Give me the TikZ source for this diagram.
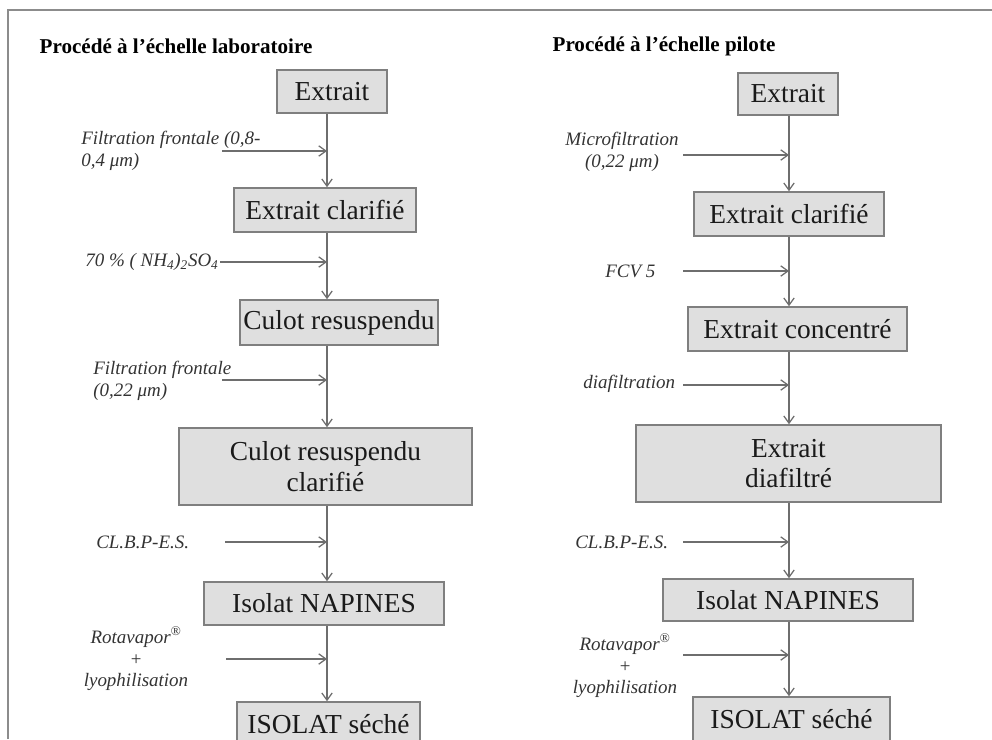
\documentclass[tikz,border=0pt]{standalone}
\usepackage{fontspec}
\setmainfont{Liberation Serif}
\usepackage{xcolor}
\usepackage{tikz}
\usetikzlibrary{arrows.meta,positioning,calc}
\definecolor{pfink}{HTML}{1A1A1A}
\definecolor{pfnote}{HTML}{333333}
\definecolor{pfbox}{HTML}{DFDFDF}
\definecolor{pfedge}{HTML}{7F7F7F}
\definecolor{pfline}{HTML}{6E6E6E}
\definecolor{pfframe}{HTML}{8C8C8C}
\tikzset{
  stepbox/.style={rectangle,draw=pfedge,line width=1.1pt,fill=pfbox,
                  inner sep=0pt,align=center,text=pfink,
                  font=\fontsize{19.5}{21.5}\selectfont},
  sz/.style 2 args={minimum width=#1*0.25mm,minimum height=#2*0.25mm},
  note/.style={inner sep=0pt,text=pfnote,
               font=\fontsize{13.5}{15.6}\selectfont\itshape},
  head/.style={inner sep=0pt,text=black,font=\fontsize{15}{18}\selectfont\bfseries},
  flow/.style={-{Straight Barb[length=1.8mm,width=2.6mm]},line width=0.9pt,draw=pfline},
  feed/.style={-{Straight Barb[length=1.8mm,width=2.6mm]},line width=0.9pt,draw=pfline},
}

\begin{document}
\begin{tikzpicture}[x=0.025cm,y=-0.025cm]
\useasboundingbox (0,0) rectangle (992,739);
\coordinate (fa) at (8,739);
\coordinate (fb) at (8,10);
\coordinate (fc) at (992,10);
\draw[pfframe,line width=1.4pt] (fa) -- (fb) -- (fc);

\node[head] (tL) at (176,46) {Procédé à l'échelle laboratoire};
\node[head] (tR) at (664,46) {Procédé à l'échelle pilote};

\coordinate (axL) at (327,0);
\coordinate (axR) at (789,0);

\node[stepbox,sz={110}{43}] (extL) at (332,91.5) {Extrait};
\node[stepbox,sz={182}{44}] (clarL) at (325,210) {Extrait clarifié};
\node[stepbox,sz={198}{45}] (culL) at (339,322.5) {Culot resuspendu};
\node[stepbox,sz={293}{77}] (culcL) at (325.5,466.5) {Culot resuspendu\\clarifié};
\node[stepbox,sz={240}{43}] (isoL) at (324,603.5) {Isolat NAPINES};
\node[stepbox,sz={183}{45}] (secL) at (328.5,724.5) {ISOLAT séché};

\node[stepbox,sz={100}{42}] (extR) at (788,94) {Extrait};
\node[stepbox,sz={190}{44}] (clarR) at (789,214) {Extrait clarifié};
\node[stepbox,sz={219}{44}] (concR) at (797.5,329) {Extrait concentré};
\node[stepbox,sz={305}{77}] (diaR) at (788.5,463.5) {Extrait\\diafiltré};
\node[stepbox,sz={250}{42}] (isoR) at (788,600) {Isolat NAPINES};
\node[stepbox,sz={197}{45}] (secR) at (791.5,719.5) {ISOLAT séché};

\draw[flow] (extL.south -| axL) -- (clarL.north -| axL);
\draw[flow] (clarL.south -| axL) -- (culL.north -| axL);
\draw[flow] (culL.south -| axL) -- (culcL.north -| axL);
\draw[flow] (culcL.south -| axL) -- (isoL.north -| axL);
\draw[flow] (isoL.south -| axL) -- (secL.north -| axL);

\draw[flow] (extR.south -| axR) -- (clarR.north -| axR);
\draw[flow] (clarR.south -| axR) -- (concR.north -| axR);
\draw[flow] (concR.south -| axR) -- (diaR.north -| axR);
\draw[flow] (diaR.south -| axR) -- (isoR.north -| axR);
\draw[flow] (isoR.south -| axR) -- (secR.north -| axR);

\node[note,anchor=west,align=left] (fL1) at (81,151) {Filtration frontale (0,8-\\0,4 μm)};
\node[note,anchor=west] (fL2) at (85,262) {70 \% ( NH\textsubscript{4})\textsubscript{2}SO\textsubscript{4}};
\node[note,anchor=west,align=left] (fL3) at (93,381) {Filtration frontale\\(0,22 μm)};
\node[note,anchor=west] (fL4) at (96,542) {CL.B.P-E.S.};
\node[note,align=center] (fL5) at (136,659) {Rotavapor\textsuperscript{®}\\+\\lyophilisation};

\node[note,align=center] (fR1) at (622,152) {Microfiltration\\(0,22 μm)};
\node[note,anchor=west] (fR2) at (605,271) {FCV 5};
\node[note,anchor=west] (fR3) at (583,384) {diafiltration};
\node[note,anchor=west] (fR4) at (575,542) {CL.B.P-E.S.};
\node[note,align=center] (fR5) at (625,666) {Rotavapor\textsuperscript{®}\\+\\lyophilisation};

\coordinate (sL1) at (222,151);
\coordinate (sL2) at (220,262);
\coordinate (sL3) at (222,380);
\coordinate (sL4) at (225,542);
\coordinate (sL5) at (226,659);
\coordinate (sR1) at (683,155);
\coordinate (sR2) at (683,271);
\coordinate (sR3) at (683,385);
\coordinate (sR4) at (683,542);
\coordinate (sR5) at (683,655);

\foreach \i in {1,...,5}{
  \draw[feed] (sL\i) -- (sL\i -| axL);
  \draw[feed] (sR\i) -- (sR\i -| axR);
}
\end{tikzpicture}
\end{document}
